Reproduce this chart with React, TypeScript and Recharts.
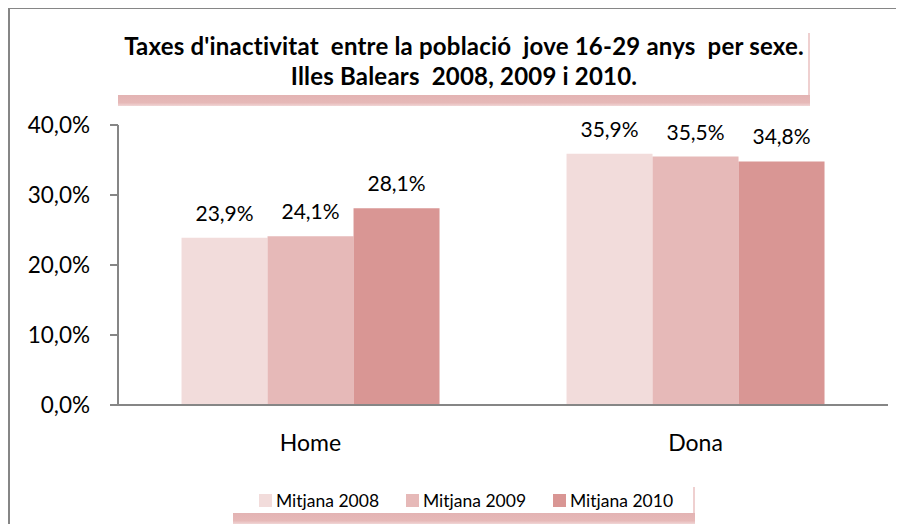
import React from 'react';
import { BarChart, Bar, XAxis, YAxis, LabelList } from 'recharts';

const categories = ['Home', 'Dona'];
const mitjana2008 = [23.9, 35.9];
const mitjana2009 = [24.1, 35.5];
const mitjana2010 = [28.1, 34.8];
const yTicks = [0, 10, 20, 30, 40];
const edgeTicks = [0, 1, 2];

const SERIES = [
  { key: 'm2008', name: 'Mitjana 2008', color: '#F2DCDB', values: mitjana2008 },
  { key: 'm2009', name: 'Mitjana 2009', color: '#E6B9B8', values: mitjana2009 },
  { key: 'm2010', name: 'Mitjana 2010', color: '#D99694', values: mitjana2010 },
];

const data = categories.map((cat, i) => {
  const row: any = { cat };
  SERIES.forEach((s) => { row[s.key] = s.values[i]; });
  return row;
});

const pct = (v: any) => Number(v).toFixed(1).replace('.', ',') + '%';
const AXIS = '#868686';
const FONT = 'Lato, "Open Sans", sans-serif';

export default function App() {
  return (
    <div style={{
      position: 'relative', width: 894, height: 515, marginTop: -1,
      borderTop: `2px solid ${AXIS}`, borderLeft: `2px solid ${AXIS}`, fontFamily: FONT,
    }}>
      {/* title box */}
      <div style={{ position: 'absolute', left: 108, top: 24, width: 690, height: 62, borderRight: '2px solid #EFD0D0', background: '#fff' }} />
      <div style={{ position: 'absolute', left: 108, top: 86, width: 692, height: 11, background: 'linear-gradient(#E3B3B3, #E6B9B8 70%, #F1D6D6)' }} />
      <div style={{
        position: 'absolute', left: 108, top: 22, width: 692, textAlign: 'center',
        fontWeight: 700, fontSize: 24, lineHeight: '30px', color: '#000', letterSpacing: 0.2,
      }}>
        Taxes d'inactivitat&nbsp; entre la població&nbsp; jove 16-29 anys&nbsp; per sexe.<br />
        Illes Balears&nbsp; 2008, 2009 i 2010.
      </div>

      <BarChart
        width={894}
        height={515}
        data={data}
        margin={{ top: 116, right: 16, bottom: 89, left: 0 }}
        barCategoryGap="16.5%"
        barGap={0}
        style={{ position: 'absolute', left: 0, top: 0 }}
      >
        <XAxis
          xAxisId="edges"
          type="number"
          domain={[0, 2]}
          ticks={edgeTicks}
          tick={false}
          axisLine={false}
          tickSize={8}
          tickLine={{ stroke: AXIS, strokeWidth: 2 }}
          height={0}
        />
        <XAxis
          dataKey="cat"
          axisLine={{ stroke: AXIS, strokeWidth: 2 }}
          tickLine={false}
          tickSize={0}
          tickMargin={30}
          tick={{ fontSize: 23, fill: '#000', fontFamily: FONT }}
          height={30}
        />
        <YAxis
          domain={[0, 40]}
          ticks={yTicks}
          tickFormatter={pct}
          width={108}
          axisLine={{ stroke: AXIS, strokeWidth: 2 }}
          tickLine={{ stroke: AXIS, strokeWidth: 2 }}
          tickSize={8}
          tickMargin={20}
          tick={{ fontSize: 22.5, fill: '#000', fontFamily: FONT }}
        />
        {SERIES.map((s) => (
          <Bar key={s.key} dataKey={s.key} name={s.name} fill={s.color} isAnimationActive={false}>
            <LabelList dataKey={s.key} position="top" offset={17} formatter={pct}
              style={{ fontSize: 21, fill: '#000', fontFamily: FONT }} />
          </Bar>
        ))}
      </BarChart>

      {/* legend box */}
      <div style={{ position: 'absolute', left: 223, top: 478, width: 460, height: 26, borderRight: '2px solid #EFD0D0', background: '#fff' }} />
      <div style={{ position: 'absolute', left: 223, top: 504, width: 462, height: 11, background: 'linear-gradient(#E3B3B3, #E6B9B8 70%, #F1D6D6)' }} />
      <div style={{ position: 'absolute', left: 249, top: 476, display: 'flex', fontSize: 17.5, color: '#000' }}>
        {SERIES.map((s) => (
          <div key={s.key} style={{ width: 147, display: 'flex', alignItems: 'center', height: 30 }}>
            <span style={{ width: 13, height: 13, background: s.color, marginRight: 4, display: 'inline-block' }} />
            <span>{s.name}</span>
          </div>
        ))}
      </div>
    </div>
  );
}
